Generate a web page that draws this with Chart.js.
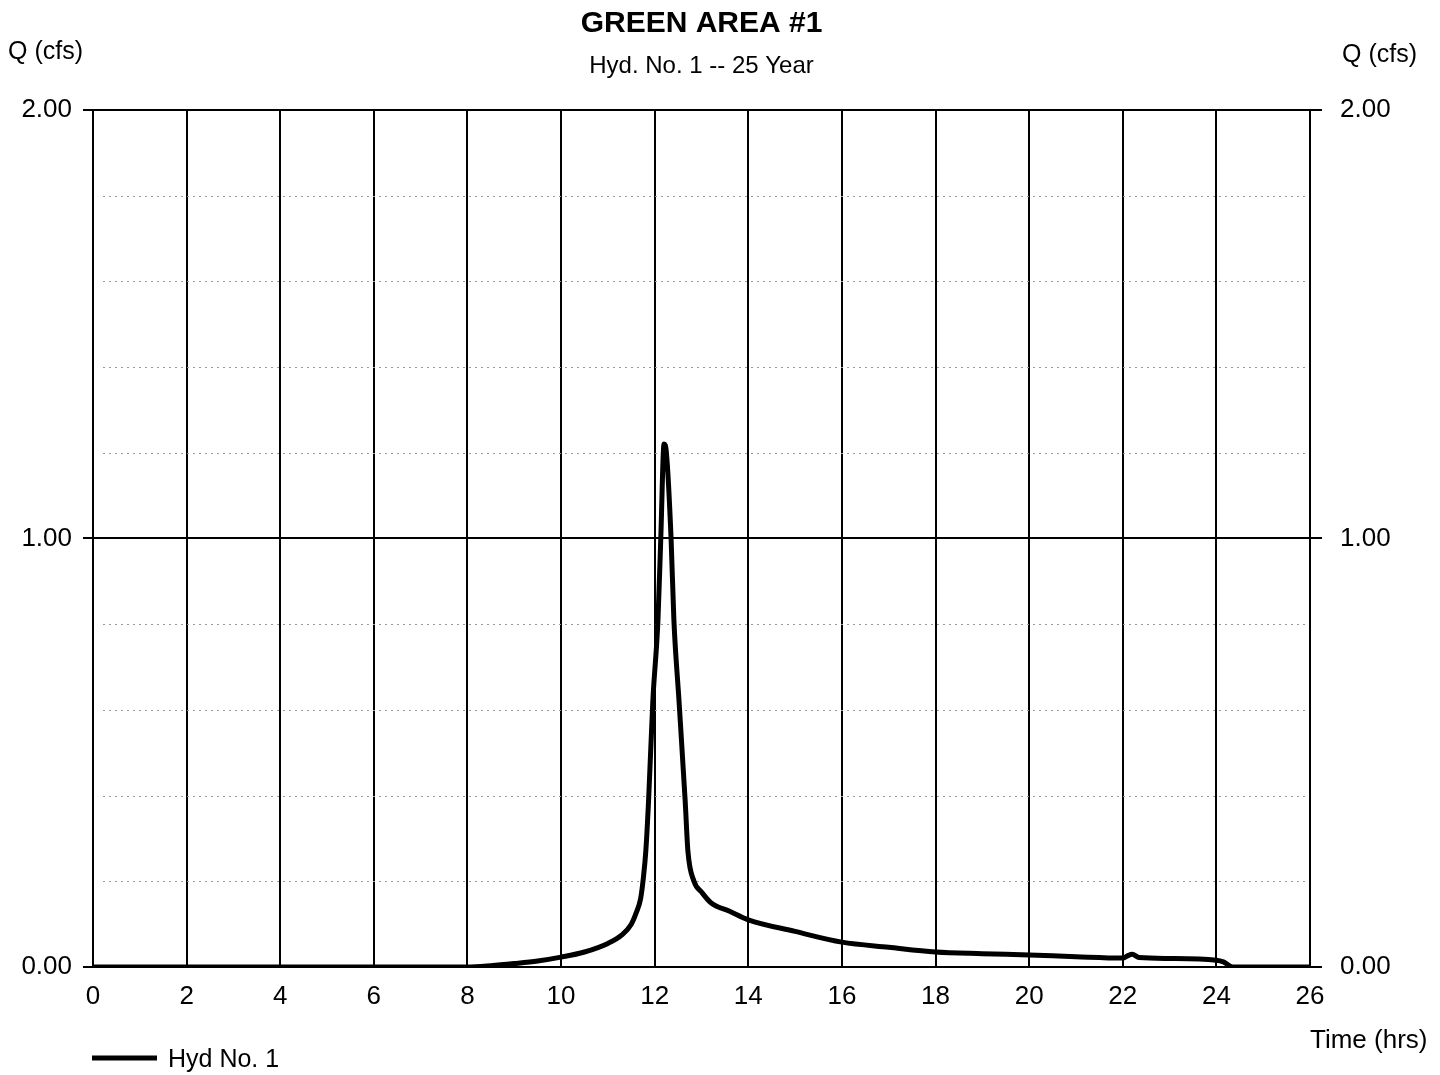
<!DOCTYPE html>
<html>
<head>
<meta charset="utf-8">
<script src="https://cdn.jsdelivr.net/npm/chart.js@4"></script>
<style>
  html, body { margin: 0; padding: 0; background: #fff; }
  #wrap { width: 1440px; height: 1075px; }
</style>
</head>
<body>
<div id="wrap"><canvas id="hydChart"></canvas></div>
<script>
// hydrograph (time in hrs, Q in cfs)
const times = [0, 8.0, 8.5, 9.0, 9.5, 10.0, 10.5, 11.0, 11.3, 11.5, 11.6, 11.7, 11.76, 11.81, 11.87, 11.96, 12.07, 12.13, 12.2, 12.25,
  12.35, 12.41, 12.52, 12.65, 12.71, 12.84, 13.0, 13.2, 13.6, 14.0, 15.0, 16.0, 17.0, 18.0, 19.0, 20.0, 21.0,
  22.0, 22.1, 22.2, 22.35, 23.0, 24.0, 24.15, 24.35, 26.0];
const flows = [0, 0.0, 0.003, 0.008, 0.014, 0.023, 0.035, 0.055, 0.075, 0.10, 0.125, 0.16, 0.21, 0.27, 0.39, 0.62, 0.81, 1.0, 1.22, 1.2,
  1.0, 0.81, 0.62, 0.39, 0.27, 0.20, 0.175, 0.15, 0.13, 0.11, 0.083, 0.058, 0.046, 0.035, 0.031, 0.028, 0.024,
  0.021, 0.026, 0.030, 0.022, 0.020, 0.016, 0.012, 0.0, 0.0];
const yTickLabels = ["0.00", "1.00", "2.00"];
const seriesName = "Hyd No. 1";

const FONT = "'Liberation Sans', Arial, Helvetica, sans-serif";

const points = times.map((t, i) => ({ x: t, y: flows[i] }));

// líneas punteadas menores cada 0.2 cfs
const minorGrid = {
  id: "minorGrid",
  beforeDatasetsDraw(chart) {
    const { ctx, chartArea } = chart;
    const y = chart.scales.y;
    ctx.save();
    ctx.strokeStyle = "#9a9a9a";
    ctx.lineWidth = 1;
    ctx.setLineDash([2, 4]);
    for (let i = 1; i < 10; i++) {
      if (i === 5) continue;
      const py = Math.round(y.getPixelForValue(i * 0.2)) + 0.5;
      ctx.beginPath();
      ctx.moveTo(chartArea.left + 10, py);
      ctx.lineTo(chartArea.right - 5, py);
      ctx.stroke();
    }
    ctx.restore();
  }
};

// textos sueltos: Q (cfs), Time (hrs) y la leyenda
const extraText = {
  id: "extraText",
  afterDraw(chart) {
    const ctx = chart.ctx;
    ctx.save();
    ctx.fillStyle = "#000";
    ctx.font = "25px " + FONT;
    ctx.textBaseline = "middle";
    ctx.textAlign = "left";
    ctx.fillText("Q (cfs)", 8, 52);
    ctx.fillText("Q (cfs)", 1342, 55);
    ctx.font = "26px " + FONT;
    ctx.fillText("Time (hrs)", 1310, 1041);

    // leyenda
    ctx.strokeStyle = "#000";
    ctx.lineWidth = 5;
    ctx.beginPath();
    ctx.moveTo(92, 1058);
    ctx.lineTo(157, 1058);
    ctx.stroke();
    ctx.font = "25px " + FONT;
    ctx.fillText(seriesName, 168, 1060);
    ctx.restore();
  }
};

const ctx = document.getElementById("hydChart").getContext("2d");
new Chart(ctx, {
  type: "line",
  data: {
    datasets: [{
      label: seriesName,
      data: points,
      borderColor: "#000",
      backgroundColor: "#000",
      borderWidth: 5,
      pointRadius: 0,
      fill: false,
      cubicInterpolationMode: "monotone",
    }],
  },
  options: {
    responsive: true,
    maintainAspectRatio: false,
    animation: false,
    layout: { padding: 0 },
    plugins: {
      legend: { display: false },
      tooltip: { enabled: false },
      title: {
        display: true,
        fullSize: false,
        text: "GREEN AREA #1",
        color: "#000",
        font: { family: FONT, size: 30, weight: "bold" },
        padding: { top: 6, bottom: 10 },
      },
      subtitle: {
        display: true,
        fullSize: false,
        text: "Hyd. No. 1 -- 25 Year",
        color: "#000",
        font: { family: FONT, size: 24 },
        padding: { top: 0, bottom: 29 },
      },
    },
    scales: {
      x: {
        type: "linear",
        min: 0,
        max: 26,
        ticks: {
          stepSize: 2,
          color: "#000",
          font: { family: FONT, size: 26 },
          padding: 14,
          maxRotation: 0,
        },
        grid: { color: "#000", lineWidth: 2, drawTicks: false },
        border: { display: false },
        afterFit(scale) { scale.height = 108; },
      },
      y: {
        position: "left",
        min: 0,
        max: 2,
        ticks: {
          stepSize: 1,
          color: "#000",
          font: { family: FONT, size: 26 },
          padding: 11,
          callback: (v) => yTickLabels[Math.round(v)],
        },
        grid: { color: "#000", lineWidth: 2, tickLength: 10 },
        border: { display: false },
        afterFit(scale) { scale.width = 93; },
      },
      y2: {
        position: "right",
        min: 0,
        max: 2,
        ticks: {
          stepSize: 1,
          color: "#000",
          font: { family: FONT, size: 26 },
          padding: 18,
          callback: (v) => yTickLabels[Math.round(v)],
        },
        grid: { drawOnChartArea: false, color: "#000", lineWidth: 2, tickLength: 12 },
        border: { display: false },
        afterFit(scale) { scale.width = 130; },
      },
    },
  },
  plugins: [minorGrid, extraText],
});
</script>
</body>
</html>
